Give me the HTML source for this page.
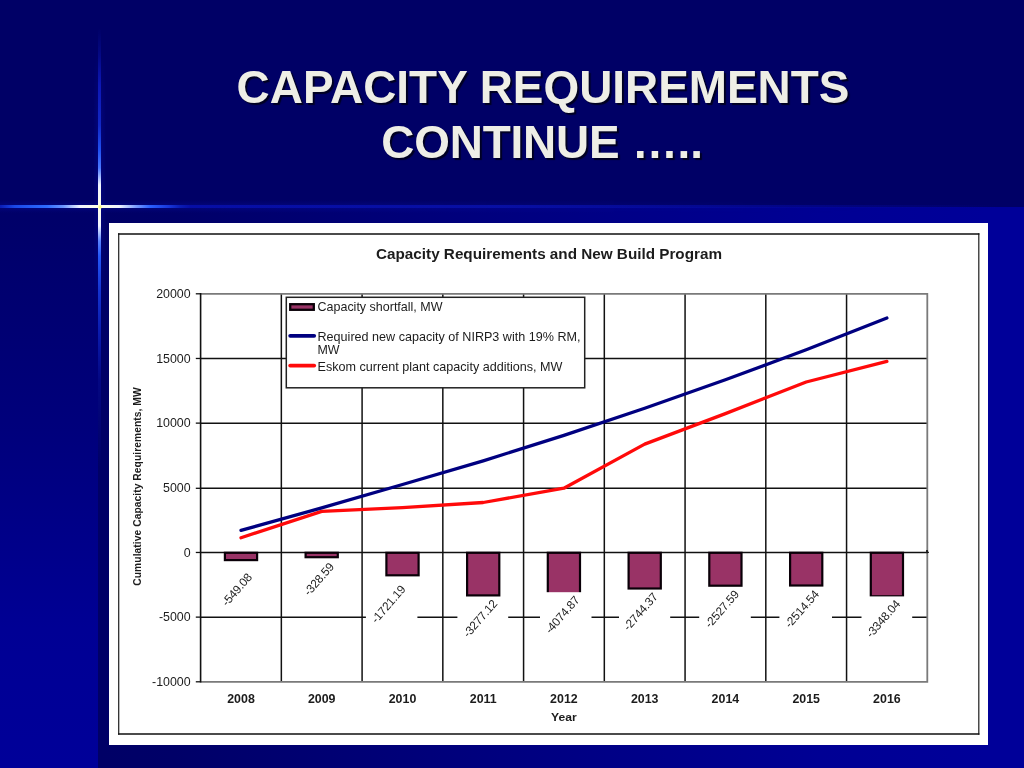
<!DOCTYPE html>
<html lang="en">
<head>
<meta charset="utf-8">
<title>Capacity Requirements Continue</title>
<style>
html,body{margin:0;padding:0;}
body{width:1024px;height:768px;overflow:hidden;background:#000066;position:relative;font-family:"Liberation Sans",sans-serif;}
#leftstrip{position:absolute;left:0;top:207px;width:98px;height:561px;background:linear-gradient(to bottom,#000068 0%,#00007c 40%,#000094 75%,#000099 100%);}
#lower{position:absolute;left:100px;top:207.4px;width:924px;height:561px;background:linear-gradient(to right,#000066 0%,#000068 8%,#000080 45%,#000094 78%,#000099 96%);}
#hglow{position:absolute;left:0;top:200px;width:1024px;height:13px;background:linear-gradient(to bottom,rgba(8,16,170,0) 0%,rgba(8,16,170,.28) 42%,rgba(8,16,170,.28) 58%,rgba(8,16,170,0) 100%);-webkit-mask-image:linear-gradient(to right,#000 0,#000 35%,transparent 85%);mask-image:linear-gradient(to right,#000 0,#000 35%,transparent 85%);}
#hbeam{position:absolute;left:0;top:204.6px;width:1024px;height:3.7px;filter:blur(.45px);background:linear-gradient(to right,#0a1cb4 0px,#1a48e8 15px,#2e6cff 47px,#6a94ff 63px,#f0f4ff 80px,#ffffe6 99.5px,#f0f4ff 119px,#7a9cff 136px,#2a60ff 150px,#1838dc 168px,#0a1cb4 180px,#060ea6 190px,rgba(8,16,166,.95) 500px,rgba(4,8,158,.55) 800px,rgba(0,0,153,0) 1000px);}
#vbeam{position:absolute;left:97.8px;top:28px;width:3.7px;height:440px;filter:blur(.45px);background:linear-gradient(to bottom,rgba(10,20,160,0) 0px,rgba(10,20,170,.45) 28px,rgba(14,26,188,.9) 58px,#1228c4 97px,#2050f0 122px,#4a78ff 140px,#f0f4ff 157px,#ffffe6 178.5px,#f0f4ff 198px,#5a84ff 213px,#2458f8 228px,#1434d0 262px,#0a1cb0 302px,rgba(6,12,150,.6) 352px,rgba(0,0,120,0) 440px);}
#vglow{position:absolute;left:93px;top:50px;width:13px;height:260px;background:linear-gradient(to right,rgba(8,16,170,0) 0%,rgba(8,16,170,.3) 45%,rgba(8,16,170,.3) 55%,rgba(8,16,170,0) 100%);-webkit-mask-image:linear-gradient(to bottom,transparent,#000 25%,#000 70%,transparent);mask-image:linear-gradient(to bottom,transparent,#000 25%,#000 70%,transparent);}
#star{position:absolute;left:97.6px;top:204.5px;width:4px;height:4px;border-radius:50%;background:radial-gradient(circle,#ffff66 0%,#ffff99 45%,rgba(255,255,200,0) 100%);}
#title{position:absolute;left:61px;top:59.5px;width:964px;text-align:center;color:#eeeee6;font-weight:bold;font-size:45.9px;line-height:55.4px;text-shadow:2px 2px 1px #000022;white-space:pre;}
#t2{letter-spacing:-0.2px;position:relative;left:-1px;}
#chart{position:absolute;left:109px;top:223px;width:879px;height:522px;background:#fff;}
</style>
</head>
<body>
<div id="leftstrip"></div>
<div id="lower"></div>
<div id="hglow"></div>
<div id="vglow"></div>
<div id="hbeam"></div>
<div id="vbeam"></div>
<div id="star"></div>
<div id="title">CAPACITY REQUIREMENTS
<span id="t2">CONTINUE …..</span></div>
<div id="chart">
<svg id="svgchart" width="879" height="522" viewBox="109 223 879 522" font-family="'Liberation Sans',sans-serif">
<path d="M118.7 233.3V734.8M978.8 233.3V734.8" fill="none" stroke="#262626" stroke-width="1.25"/>
<path d="M118.1 234H979.4M118.1 734.1H979.4" fill="none" stroke="#111" stroke-width="1.5"/>
<line x1="200.6" y1="358.47" x2="927.3" y2="358.47" stroke="#111" stroke-width="1.5"/>
<line x1="200.6" y1="423.13" x2="927.3" y2="423.13" stroke="#111" stroke-width="1.5"/>
<line x1="200.6" y1="488.30" x2="927.3" y2="488.30" stroke="#111" stroke-width="1.5"/>
<line x1="200.6" y1="552.47" x2="927.3" y2="552.47" stroke="#111" stroke-width="1.5"/>
<line x1="200.6" y1="617.13" x2="927.3" y2="617.13" stroke="#111" stroke-width="1.5"/>
<line x1="281.34" y1="293.8" x2="281.34" y2="681.8" stroke="#111" stroke-width="1.5"/>
<line x1="362.09" y1="293.8" x2="362.09" y2="681.8" stroke="#111" stroke-width="1.5"/>
<line x1="442.83" y1="293.8" x2="442.83" y2="681.8" stroke="#111" stroke-width="1.5"/>
<line x1="523.58" y1="293.8" x2="523.58" y2="681.8" stroke="#111" stroke-width="1.5"/>
<line x1="604.32" y1="293.8" x2="604.32" y2="681.8" stroke="#111" stroke-width="1.5"/>
<line x1="685.07" y1="293.8" x2="685.07" y2="681.8" stroke="#111" stroke-width="1.5"/>
<line x1="765.81" y1="293.8" x2="765.81" y2="681.8" stroke="#111" stroke-width="1.5"/>
<line x1="846.56" y1="293.8" x2="846.56" y2="681.8" stroke="#111" stroke-width="1.5"/>
<path d="M200.6 293.8H927.3V681.8H200.6" fill="none" stroke="#7a7a7a" stroke-width="1.8"/>
<line x1="200.6" y1="293.1" x2="200.6" y2="682.5" stroke="#111" stroke-width="1.6"/>
<line x1="195.8" y1="293.80" x2="200.6" y2="293.80" stroke="#111" stroke-width="1.3"/>
<line x1="195.8" y1="358.47" x2="200.6" y2="358.47" stroke="#111" stroke-width="1.3"/>
<line x1="195.8" y1="423.13" x2="200.6" y2="423.13" stroke="#111" stroke-width="1.3"/>
<line x1="195.8" y1="488.30" x2="200.6" y2="488.30" stroke="#111" stroke-width="1.3"/>
<line x1="195.8" y1="552.47" x2="200.6" y2="552.47" stroke="#111" stroke-width="1.3"/>
<line x1="195.8" y1="617.13" x2="200.6" y2="617.13" stroke="#111" stroke-width="1.3"/>
<line x1="195.8" y1="681.80" x2="200.6" y2="681.80" stroke="#111" stroke-width="1.3"/>
<line x1="927.0" y1="549.9" x2="927.0" y2="553.3" stroke="#111" stroke-width="1.6"/>
<line x1="927.3" y1="552.47" x2="928.9" y2="552.47" stroke="#111" stroke-width="1.3"/>
<text x="190.6" y="298.1" font-size="12.4" text-anchor="end" fill="#1c1c1c">20000</text>
<text x="190.6" y="362.8" font-size="12.4" text-anchor="end" fill="#1c1c1c">15000</text>
<text x="190.6" y="427.4" font-size="12.4" text-anchor="end" fill="#1c1c1c">10000</text>
<text x="190.6" y="492.1" font-size="12.4" text-anchor="end" fill="#1c1c1c">5000</text>
<text x="190.6" y="556.8" font-size="12.4" text-anchor="end" fill="#1c1c1c">0</text>
<text x="190.6" y="621.4" font-size="12.4" text-anchor="end" fill="#1c1c1c">-5000</text>
<text x="190.6" y="686.1" font-size="12.4" text-anchor="end" fill="#1c1c1c">-10000</text>
<rect x="224.9" y="552.8" width="32.2" height="7.3" fill="#993366" stroke="#0a0008" stroke-width="2.2"/>
<rect x="305.6" y="552.8" width="32.2" height="4.4" fill="#993366" stroke="#0a0008" stroke-width="2.2"/>
<rect x="386.4" y="552.8" width="32.2" height="22.5" fill="#993366" stroke="#0a0008" stroke-width="2.2"/>
<rect x="467.1" y="552.8" width="32.2" height="42.6" fill="#993366" stroke="#0a0008" stroke-width="2.2"/>
<rect x="547.8" y="552.8" width="32.2" height="52.9" fill="#993366" stroke="#0a0008" stroke-width="2.2"/>
<rect x="628.6" y="552.8" width="32.2" height="35.7" fill="#993366" stroke="#0a0008" stroke-width="2.2"/>
<rect x="709.3" y="552.8" width="32.2" height="32.9" fill="#993366" stroke="#0a0008" stroke-width="2.2"/>
<rect x="790.1" y="552.8" width="32.2" height="32.7" fill="#993366" stroke="#0a0008" stroke-width="2.2"/>
<rect x="870.8" y="552.8" width="32.2" height="43.5" fill="#993366" stroke="#0a0008" stroke-width="2.2"/>
<rect x="365.9" y="580" width="51.5" height="62.0" fill="#fff"/>
<rect x="457.4" y="597.2" width="50.8" height="44.8" fill="#fff"/>
<rect x="540" y="592.2" width="51.5" height="49.8" fill="#fff"/>
<rect x="619" y="590.5" width="51.2" height="51.5" fill="#fff"/>
<rect x="699.2" y="588" width="51.6" height="54.0" fill="#fff"/>
<rect x="779.4" y="588" width="52.6" height="54.0" fill="#fff"/>
<rect x="861.5" y="596.4" width="50.7" height="45.6" fill="#fff"/>
<text transform="translate(236.7 589.5) rotate(-49)" class="dl" font-size="11.8" letter-spacing="-0.15" text-anchor="middle" y="4.2" fill="#1c1c1c">-549.08</text>
<text transform="translate(318.7 579.1) rotate(-49)" class="dl" font-size="11.8" letter-spacing="-0.15" text-anchor="middle" y="4.2" fill="#1c1c1c">-328.59</text>
<text transform="translate(388.2 604.0) rotate(-49)" class="dl" font-size="11.8" letter-spacing="-0.15" text-anchor="middle" y="4.2" fill="#1c1c1c">-1721.19</text>
<text transform="translate(479.9 618.4) rotate(-49)" class="dl" font-size="11.8" letter-spacing="-0.15" text-anchor="middle" y="4.2" fill="#1c1c1c">-3277.12</text>
<text transform="translate(562.1 614.7) rotate(-49)" class="dl" font-size="11.8" letter-spacing="-0.15" text-anchor="middle" y="4.2" fill="#1c1c1c">-4074.87</text>
<text transform="translate(640.3 611.5) rotate(-49)" class="dl" font-size="11.8" letter-spacing="-0.15" text-anchor="middle" y="4.2" fill="#1c1c1c">-2744.37</text>
<text transform="translate(721.7 608.9) rotate(-49)" class="dl" font-size="11.8" letter-spacing="-0.15" text-anchor="middle" y="4.2" fill="#1c1c1c">-2527.59</text>
<text transform="translate(801.6 608.9) rotate(-49)" class="dl" font-size="11.8" letter-spacing="-0.15" text-anchor="middle" y="4.2" fill="#1c1c1c">-2514.54</text>
<text transform="translate(882.9 618.7) rotate(-49)" class="dl" font-size="11.8" letter-spacing="-0.15" text-anchor="middle" y="4.2" fill="#1c1c1c">-3348.04</text>
<polyline points="241.0,537.7 321.7,511.4 402.5,507.6 483.2,502.5 563.9,488.2 644.7,444.1 725.4,413.6 806.2,382.0 886.9,361.4" fill="none" stroke="#ff0a0a" stroke-width="3.3" stroke-linejoin="round" stroke-linecap="round"/>
<polyline points="241.0,530.4 321.7,507.9 402.5,484.5 483.2,460.8 563.9,435.4 644.7,408.3 725.4,379.7 806.2,349.8 886.9,318.0" fill="none" stroke="#000080" stroke-width="3.3" stroke-linejoin="round" stroke-linecap="round"/>
<rect x="286.3" y="297.3" width="298.4" height="90.5" fill="#fff" stroke="#222" stroke-width="1.5"/>
<rect x="290.2" y="304.2" width="23.6" height="5.6" fill="#993366" stroke="#0a0008" stroke-width="2.3"/>
<line x1="290.2" y1="335.8" x2="314.2" y2="335.8" stroke="#000080" stroke-width="3.8" stroke-linecap="round"/>
<line x1="290.2" y1="365.6" x2="314.2" y2="365.6" stroke="#ff0a0a" stroke-width="3.8" stroke-linecap="round"/>
<text x="317.5" y="311.3" font-size="12.4" textLength="125" lengthAdjust="spacingAndGlyphs" fill="#1c1c1c">Capacity shortfall, MW</text>
<text x="317.5" y="341.3" font-size="12.4" textLength="263" lengthAdjust="spacingAndGlyphs" fill="#1c1c1c">Required new capacity of NIRP3 with 19% RM,</text>
<text x="317.5" y="353.5" font-size="12.4" fill="#1c1c1c">MW</text>
<text x="317.5" y="370.6" font-size="12.4" textLength="245" lengthAdjust="spacingAndGlyphs" fill="#1c1c1c">Eskom current plant capacity additions, MW</text>
<text x="376" y="258.6" font-size="14" font-weight="bold" textLength="346" lengthAdjust="spacingAndGlyphs" fill="#1c1c1c">Capacity Requirements and New Build Program</text>
<text x="241.0" y="702.8" font-size="12.4" font-weight="bold" text-anchor="middle" fill="#1c1c1c">2008</text>
<text x="321.7" y="702.8" font-size="12.4" font-weight="bold" text-anchor="middle" fill="#1c1c1c">2009</text>
<text x="402.5" y="702.8" font-size="12.4" font-weight="bold" text-anchor="middle" fill="#1c1c1c">2010</text>
<text x="483.2" y="702.8" font-size="12.4" font-weight="bold" text-anchor="middle" fill="#1c1c1c">2011</text>
<text x="563.9" y="702.8" font-size="12.4" font-weight="bold" text-anchor="middle" fill="#1c1c1c">2012</text>
<text x="644.7" y="702.8" font-size="12.4" font-weight="bold" text-anchor="middle" fill="#1c1c1c">2013</text>
<text x="725.4" y="702.8" font-size="12.4" font-weight="bold" text-anchor="middle" fill="#1c1c1c">2014</text>
<text x="806.2" y="702.8" font-size="12.4" font-weight="bold" text-anchor="middle" fill="#1c1c1c">2015</text>
<text x="886.9" y="702.8" font-size="12.4" font-weight="bold" text-anchor="middle" fill="#1c1c1c">2016</text>
<text x="551.1" y="720.7" font-size="10.2" font-weight="bold" textLength="25.6" lengthAdjust="spacingAndGlyphs" fill="#1c1c1c">Year</text>
<text transform="translate(140.7 585.7) rotate(-90)" font-size="10.3" font-weight="bold" textLength="198.4" lengthAdjust="spacing" fill="#1c1c1c">Cumulative Capacity Requirements, MW</text>
</svg>
</div>
</body>
</html>
